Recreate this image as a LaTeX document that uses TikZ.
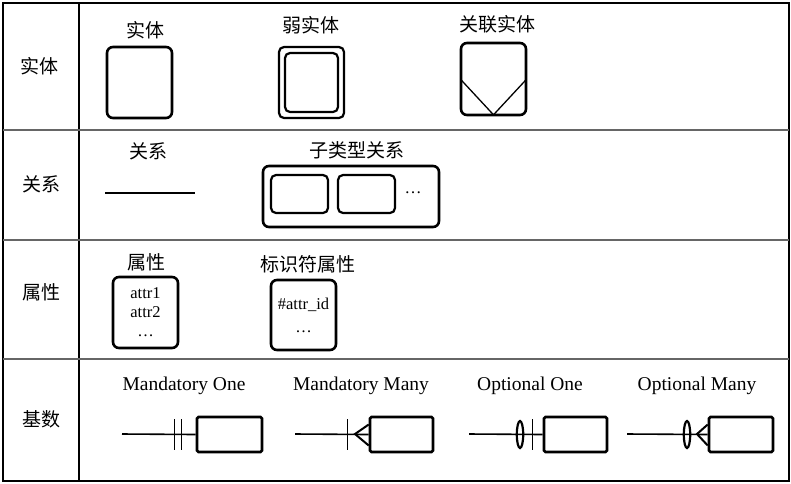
\documentclass[tikz,border=0pt]{standalone}
\usepackage{fontspec}
\setmainfont{Liberation Serif}
\newfontfamily\cjk{Noto Sans CJK SC}

\begin{document}
\begin{tikzpicture}[x=1pt,y=-1pt,
    rowline/.style={line width=1.3pt,gray!80!black},
    cjklabel/.style={font=\cjk\fontsize{19}{21}\selectfont,inner sep=0pt},
    enlabel/.style={font=\fontsize{19.5}{21}\selectfont,inner sep=0pt},
    bigbox/.style={draw,line width=2.6pt,rounded corners=6pt,inner sep=0pt},
    midbox/.style={draw,line width=2.2pt,rounded corners=5pt,inner sep=0pt},
    cardbox/.style={draw,line width=2.6pt,rounded corners=1.5pt,inner sep=0pt,
        minimum height=35},
    boxtext/.style={font=\fontsize{16.5}{19}\selectfont,align=center},
    relline/.style={line width=1.6pt}]
    \useasboundingbox (0,0) rectangle (791,483);

    % Draw the table frame
    \draw[line width=1.2pt] (3,3) rectangle (789,481);
    \draw[line width=1.2pt] (79,3) -- (79,481);
    \draw[rowline] (3,130) -- (789,130);
    \draw[rowline] (3,240) -- (789,240);
    \draw[rowline] (3,359) -- (789,359);

    \node[cjklabel] (rowent) at (39,66) {实体};
    \node[cjklabel] (rowrel) at (41,184) {关系};
    \node[cjklabel] (rowatt) at (41,292) {属性};
    \node[cjklabel] (rowcard) at (41,419) {基数};

    % Entities
    \node[cjklabel] (entlbl) at (145,30) {实体};
    \node[bigbox,minimum width=65,minimum height=71] (ent) at (139.5,82.5) {};
    \node[cjklabel] (weaklbl) at (311,25) {弱实体};
    \node[midbox,minimum width=65,minimum height=71] (weak) at (311.5,82.5) {};
    \node[midbox,minimum width=53,minimum height=59] (weakin) at (311.5,82.5) {};
    \node[cjklabel] (assoclbl) at (497,24) {关联实体};
    \node[bigbox,minimum width=65,minimum height=72] (assoc) at (493.5,79) {};
    \draw[line width=1.3pt] ([xshift=1.5pt,yshift=-1pt]assoc.west)
        -- ([yshift=1.5pt]assoc.south) -- ([xshift=-1.5pt,yshift=-1pt]assoc.east);

    % Relations
    \node[cjklabel] (rellbl) at (148,151) {关系};
    \coordinate (rel-a) at (105,193);
    \coordinate (rel-b) at (195,193);
    \draw[line width=2.8pt] (rel-a) -- (rel-b);
    \node[cjklabel] (sublbl) at (357,150) {子类型关系};
    \node[bigbox,minimum width=176,minimum height=61] (sub) at (351,196.5) {};
    \node[midbox,minimum width=57,minimum height=38] (sub1) at (299.5,194) {};
    \node[midbox,minimum width=57,minimum height=38] (sub2) at (366.5,194) {};
    \node[font=\fontsize{17}{18}\selectfont,inner sep=0pt] (subdots) at (413,193) {\dots};

    % Attributes
    \node[cjklabel] (attlbl) at (146,262) {属性};
    \node[bigbox,boxtext,minimum width=65,minimum height=71] (att) at (145.5,312.5)
        {attr1\\attr2\\\dots};
    \node[cjklabel] (idlbl) at (308,264) {标识符属性};
    \node[bigbox,boxtext,minimum width=65,minimum height=70] (idatt) at (303.5,315)
        {\#attr\_id\\[4pt]\dots};

    % Cardinality
    \node[enlabel] (molbl) at (184,386) {Mandatory One};
    \node[enlabel] (mmlbl) at (361,386) {Mandatory Many};
    \node[enlabel] (oolbl) at (530,386) {Optional One};
    \node[enlabel] (omlbl) at (697,386) {Optional Many};

    \node[cardbox,minimum width=65] (mo) at (229.5,434.5) {};
    \node[cardbox,minimum width=63] (mm) at (401.5,434.5) {};
    \node[cardbox,minimum width=63] (oo) at (575.5,434.5) {};
    \node[cardbox,minimum width=64] (om) at (741,434.5) {};

    \coordinate (mo-in) at (122,434);
    \coordinate (mm-in) at (295,434);
    \coordinate (oo-in) at (469,434);
    \coordinate (om-in) at (627,434);
    \coordinate (mm-foot) at (355,434);
    \coordinate (om-foot) at (697,434);

    \draw[relline] (mo-in) -- (mo.west);
    \draw[relline] (mm-in) -- (mm.west);
    \draw[relline] (oo-in) -- (oo.west);
    \draw[relline] (om-in) -- (om.west);

    % one / many marks
    \draw[line width=1pt] (174,419) -- (174,450);
    \draw[line width=1pt] (181,419) -- (181,450);
    \draw[line width=1pt] (347,419) -- (347,450);
    \draw[line width=1pt] (532,419) -- (532,450);
    \draw[line width=2pt] ([yshift=10pt]mm.west) -- (mm-foot) -- ([yshift=-11pt]mm.west);
    \draw[line width=2pt] ([yshift=10pt]om.west) -- (om-foot) -- ([yshift=-11pt]om.west);
    \draw[line width=2.2pt] (520,434.5) ellipse [x radius=3.2, y radius=13.5];
    \draw[line width=2.2pt] (687,434.5) ellipse [x radius=3.2, y radius=13.5];
\end{tikzpicture}
\end{document}
